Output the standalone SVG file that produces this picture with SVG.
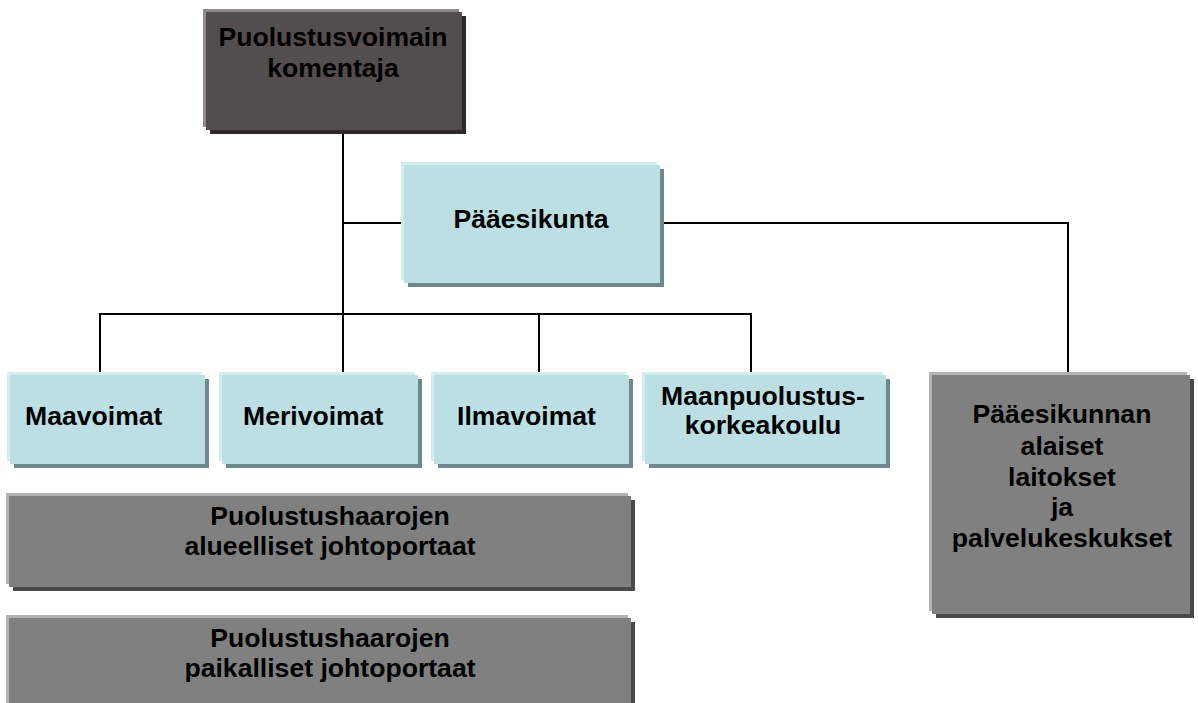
<svg xmlns="http://www.w3.org/2000/svg" width="1198" height="703" viewBox="0 0 1198 703">
<style>
  text { font-family: "Liberation Sans", Arial, sans-serif; font-weight: bold; font-size: 26.6px; fill: #000; }
  .c { text-anchor: middle; }
  .blue .hl { fill: #d3ecee; } .blue .sh { fill: #6e898b; } .blue .mn { fill: #bbdfe3; }
  .gray .hl { fill: #b3b3b3; } .gray .sh { fill: #4a4a4a; } .gray .mn { fill: #808080; }
  .dark .hl { fill: #8f8a8b; } .dark .sh { fill: #2e2a2b; } .dark .mn { fill: #534d4f; }
  .conn { fill: none; stroke: #000; stroke-width: 2; }
</style>
<rect width="1198" height="703" fill="#fff"/>
<g id="connectors">
  <path class="conn" d="M343 130 V375"/>
  <path class="conn" d="M343 223 H404"/>
  <path class="conn" d="M660 223 H1068 V375"/>
  <path class="conn" d="M100 375 V314 H751 V375"/>
  <path class="conn" d="M539 314 V375"/>
</g>
<g id="komentaja" class="dark">
  <rect class="sh" x="210" y="16" width="256" height="118"/>
  <rect class="hl" x="203" y="9" width="256" height="118"/>
  <rect class="mn" x="206" y="12" width="256" height="118"/>
  <text class="c" x="333" y="46">Puolustusvoimain</text>
  <text class="c" x="333" y="77">komentaja</text>
</g>
<g id="paaesikunta" class="blue">
  <rect class="sh" x="408" y="169" width="256" height="118"/>
  <rect class="hl" x="401" y="162" width="256" height="118"/>
  <rect class="mn" x="404" y="165" width="256" height="118"/>
  <text class="c" x="531" y="228">Pääesikunta</text>
</g>
<g id="maavoimat" class="blue">
  <rect class="sh" x="14" y="379" width="195" height="89"/>
  <rect class="hl" x="7" y="372" width="195" height="89"/>
  <rect class="mn" x="10" y="375" width="195" height="89"/>
  <text x="25" y="425">Maavoimat</text>
</g>
<g id="merivoimat" class="blue">
  <rect class="sh" x="226" y="379" width="196" height="89"/>
  <rect class="hl" x="219" y="372" width="196" height="89"/>
  <rect class="mn" x="222" y="375" width="196" height="89"/>
  <text x="243" y="425">Merivoimat</text>
</g>
<g id="ilmavoimat" class="blue">
  <rect class="sh" x="438" y="379" width="195" height="89"/>
  <rect class="hl" x="431" y="372" width="195" height="89"/>
  <rect class="mn" x="434" y="375" width="195" height="89"/>
  <text x="457" y="425">Ilmavoimat</text>
</g>
<g id="maanpuolustuskorkeakoulu" class="blue">
  <rect class="sh" x="649" y="379" width="241" height="89"/>
  <rect class="hl" x="642" y="372" width="241" height="89"/>
  <rect class="mn" x="645" y="375" width="241" height="89"/>
  <text class="c" x="763" y="405">Maanpuolustus-</text>
  <text class="c" x="763" y="434">korkeakoulu</text>
</g>
<g id="alaiset" class="gray">
  <rect class="sh" x="936" y="379" width="258" height="239"/>
  <rect class="hl" x="929" y="372" width="258" height="239"/>
  <rect class="mn" x="932" y="375" width="258" height="239"/>
  <text class="c" x="1062" y="423">Pääesikunnan</text>
  <text class="c" x="1062" y="455">alaiset</text>
  <text class="c" x="1062" y="486">laitokset</text>
  <text class="c" x="1062" y="516">ja</text>
  <text class="c" x="1062" y="547">palvelukeskukset</text>
</g>
<g id="alueelliset" class="gray">
  <rect class="sh" x="13" y="500" width="622" height="91"/>
  <rect class="hl" x="6" y="493" width="622" height="91"/>
  <rect class="mn" x="9" y="496" width="622" height="91"/>
  <text class="c" x="330" y="525">Puolustushaarojen</text>
  <text class="c" x="330" y="555">alueelliset johtoportaat</text>
</g>
<g id="paikalliset" class="gray">
  <rect class="sh" x="13" y="622" width="622" height="91"/>
  <rect class="hl" x="6" y="615" width="622" height="91"/>
  <rect class="mn" x="9" y="618" width="622" height="91"/>
  <text class="c" x="330" y="647">Puolustushaarojen</text>
  <text class="c" x="330" y="677">paikalliset johtoportaat</text>
</g>
</svg>
